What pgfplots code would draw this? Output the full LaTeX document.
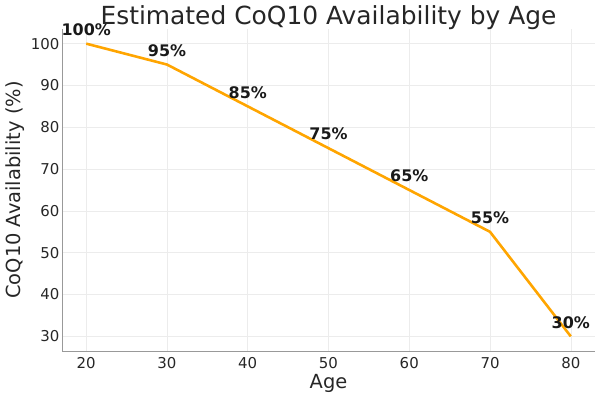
\documentclass[border=0pt]{standalone}
\usepackage{pgfplots}
\pgfplotsset{compat=1.18}
\usepackage{fontspec}
\setmainfont{DejaVu Sans}
\definecolor{myorange}{HTML}{FFA500}
\begin{document}
\begin{tikzpicture}[x=1bp,y=1bp]
\useasboundingbox (0,0) rectangle (600bp,398bp);
\begin{axis}[
  at={(62bp,47bp)}, anchor=south west,
  scale only axis, width=533bp, height=322bp,
  xmin=17, xmax=83, ymin=26.5, ymax=103.5,
  xtick={20,30,...,80}, ytick={30,40,...,100},
  axis lines*=left,
  axis line style={draw=gray!80, line width=0.8pt, -},
  tick style={draw=none},
  major tick length=0pt,
  grid=major, grid style={draw=gray!15, line width=0.5pt},
  /pgf/number format/assume math mode=true,
  ticklabel style={font=\fontsize{15}{17}\selectfont, text=black!85},
  xticklabel style={yshift=-3bp},
  yticklabel style={xshift=1bp},
  xlabel={Age}, ylabel={CoQ10 Availability (\%)},
  label style={font=\fontsize{19.5}{22}\selectfont, text=black!85},
  xlabel style={yshift=1bp},
  ylabel style={yshift=0bp},
  title={Estimated CoQ10 Availability by Age},
  title style={font=\fontsize{25}{28}\selectfont, text=black!85, yshift=-10bp},
  clip=false,
  nodes near coords={\bfseries\pgfmathprintnumber{\pgfplotspointmeta}\%},
  nodes near coords style={font=\fontsize{16}{18}\selectfont\bfseries, text=black!90, anchor=center, yshift=14bp},
  point meta=explicit,
]
\addplot[color=myorange, line width=2.6pt, line join=round] table[meta index=2] {
x y m
20 100 100
30 95 95
40 85 85
50 75 75
60 65 65
70 55 55
80 30 30
};
\end{axis}
\end{tikzpicture}
\end{document}
